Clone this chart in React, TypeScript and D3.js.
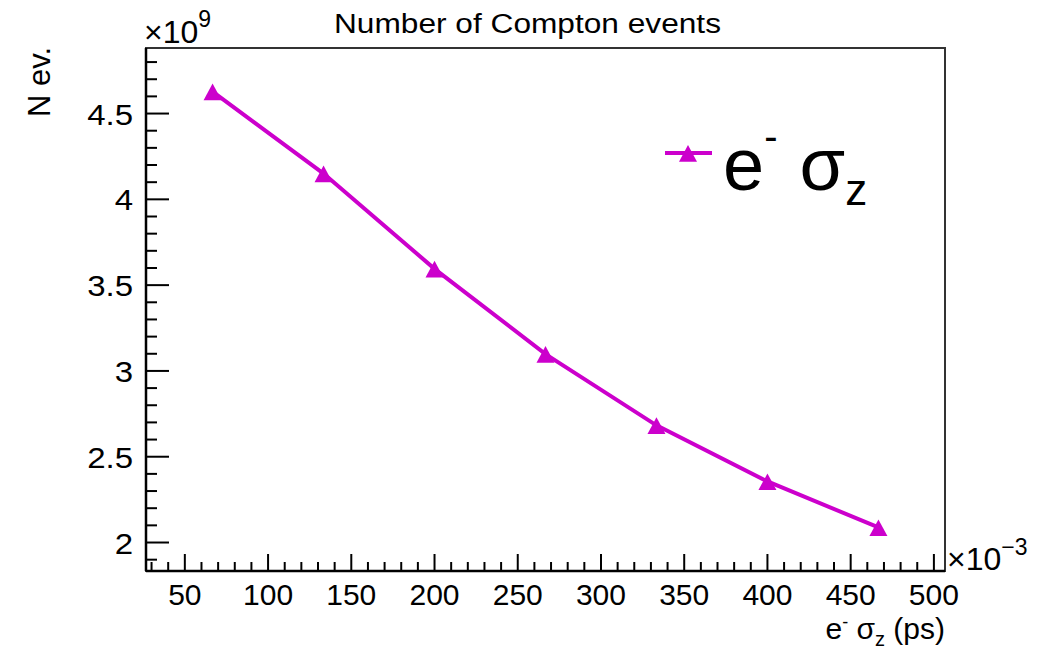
import React from "react";
import * as d3 from "d3";

const sigmaZ = [66.67, 133.33, 200, 266.67, 333.33, 400, 466.67];
const nEvents = [4.628, 4.15, 3.595, 3.098, 2.683, 2.356, 2.088];
const xTicks = [50, 100, 150, 200, 250, 300, 350, 400, 450, 500];
const yTicks = [2, 2.5, 3, 3.5, 4, 4.5];
const title = "Number of Compton events";

const W = 1041, H = 653;
const L = 146, R = 945, T = 48, B = 571;
const COLOR = "#cc00cc";
const FONT = "'Liberation Sans', Arial, Helvetica, sans-serif";

export default function App() {
  const x = d3.scaleLinear().domain([26.67, 506.67]).range([L, R]);
  const y = d3.scaleLinear().domain([1.834, 4.882]).range([B, T]);
  const line = d3.line<number>().x((_, i) => x(sigmaZ[i])).y((d) => y(d));

  const xMinor = d3.range(30, 507, 10);
  const yMinor = d3.range(19, 49).map((v) => v / 10).filter((v) => v >= 1.834 && v <= 4.882);

  const tri = (cx: number, cy: number, s: number) =>
    `M${cx},${cy - s}L${cx + s},${cy + s * 0.85}L${cx - s},${cy + s * 0.85}Z`;

  return (
    <svg width={W} height={H} style={{ display: "block", position: "absolute", left: 0, top: 0 }} fontFamily={FONT}>
      <rect x={0} y={0} width={W} height={H} fill="white" />
      {/* frame */}
      <rect x={L} y={T} width={R - L} height={B - T} fill="none" stroke="#333" strokeWidth={2} />
      {/* axes */}
      <line x1={L} x2={R} y1={B} y2={B} stroke="black" strokeWidth={2.5} />
      <line x1={L} x2={L} y1={T} y2={B} stroke="black" strokeWidth={2.5} />
      {xMinor.map((v) => {
        const major = v % 50 === 0;
        return <line key={"xm" + v} x1={x(v)} x2={x(v)} y1={B} y2={B - (major ? 17 : 9)} stroke="black" strokeWidth={2} />;
      })}
      {yMinor.map((v) => {
        const major = Math.abs(v * 2 - Math.round(v * 2)) < 1e-6;
        return <line key={"ym" + v} x1={L} x2={L + (major ? 23 : 11)} y1={y(v)} y2={y(v)} stroke="black" strokeWidth={2} />;
      })}
      {xTicks.map((v) => (
        <text key={"xt" + v} x={x(v)} y={605} fontSize={30} textAnchor="middle" fill="black">{v}</text>
      ))}
      {yTicks.map((v) => (
        <text key={"yt" + v} transform={`translate(133,${y(v) + 11}) scale(1.1,1)`} fontSize={30} textAnchor="end" fill="black">{String(v)}</text>
      ))}
      {/* exponents */}
      <text x={144} y={43} fontSize={32} fill="black">×10<tspan dy={-16} fontSize={23}>9</tspan></text>
      <text x={947} y={570} fontSize={32} fill="black">×10<tspan dy={-15} fontSize={23}>−3</tspan></text>
      {/* title */}
      <text x={334} y={33} fontSize={27} textLength={387} lengthAdjust="spacingAndGlyphs" fill="black">{title}</text>
      {/* axis titles */}
      <text transform={`translate(50,47) rotate(-90)`} fontSize={31} textAnchor="end" fill="black">N ev.</text>
      <text x={945} y={639} fontSize={30} textAnchor="end" fill="black">
        e<tspan dy={-11} fontSize={18}>-</tspan><tspan dy={11}> σ</tspan><tspan dy={7} fontSize={20}>z</tspan><tspan dy={-7}> (ps)</tspan>
      </text>
      {/* data */}
      <path d={line(nEvents) || ""} fill="none" stroke={COLOR} strokeWidth={4} />
      {nEvents.map((v, i) => (
        <path key={"m" + i} d={tri(x(sigmaZ[i]), y(v) + 1, 9)} fill={COLOR} />
      ))}
      {/* legend */}
      <line x1={665} x2={712} y1={153} y2={153} stroke={COLOR} strokeWidth={4} />
      <path d={tri(688, 154, 9)} fill={COLOR} />
      <text x={723} y={190} fontSize={74} fill="black">
        e<tspan dy={-40} fontSize={40}>-</tspan><tspan dy={40} dx={22}>σ</tspan><tspan dy={15} fontSize={44}>z</tspan>
      </text>
    </svg>
  );
}
